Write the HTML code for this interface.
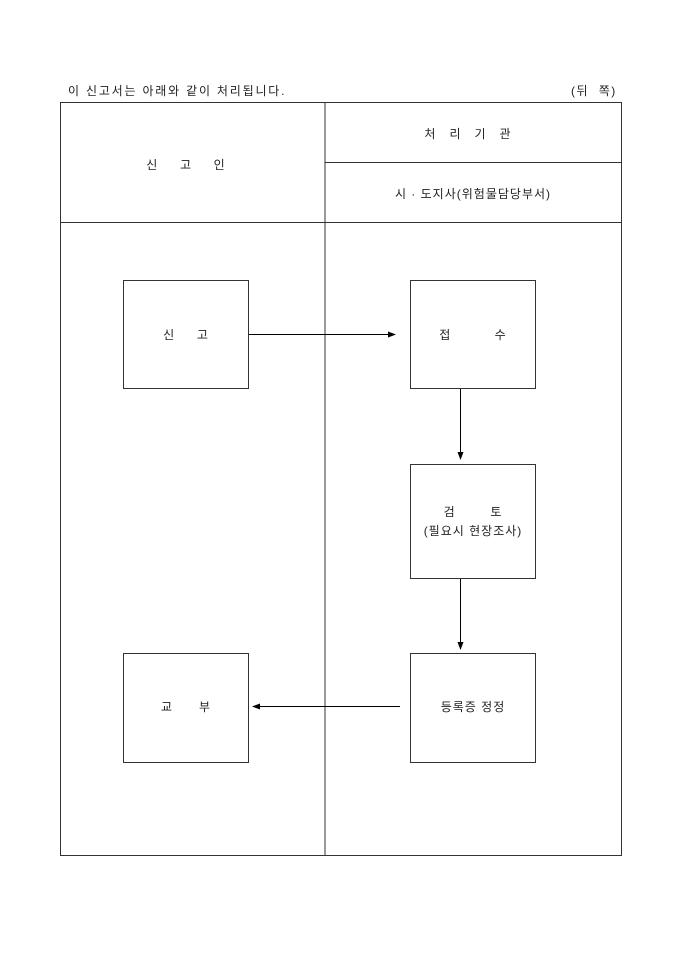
<!DOCTYPE html>
<html><head><meta charset="utf-8"><style>
body{margin:0;width:680px;height:962px;background:#fff;overflow:hidden}
svg text{font-family:"Liberation Sans","Noto Sans CJK KR","NanumGothic",sans-serif;font-size:12px;fill:#222;letter-spacing:1px}
</style></head><body>
<svg width="680" height="962" xmlns="http://www.w3.org/2000/svg">
<defs><marker id="a" markerWidth="8" markerHeight="8" refX="7" refY="4" orient="auto" markerUnits="userSpaceOnUse"><path d="M0,1 L8,4 L0,7 z" fill="#000"/></marker></defs>
<text x="68" y="95" style="letter-spacing:1.8px">이 신고서는 아래와 같이 처리됩니다.</text>
<text x="571" y="95" xml:space="preserve" style="letter-spacing:1.5px">(뒤  쪽)</text>
<g stroke="#333" stroke-width="1" fill="none">
<rect x="60.5" y="102.5" width="561" height="753"/>
<line x1="325" y1="102" x2="325" y2="856"/>
<line x1="60" y1="222.5" x2="622" y2="222.5"/>
<line x1="325" y1="162.5" x2="622" y2="162.5"/>
<rect x="123.5" y="280.5" width="125" height="108"/>
<rect x="410.5" y="280.5" width="125" height="108"/>
<rect x="410.5" y="464.5" width="125" height="114"/>
<rect x="410.5" y="653.5" width="125" height="109"/>
<rect x="123.5" y="653.5" width="125" height="109"/>
</g>
<g stroke="#000" stroke-width="1">
<line x1="249" y1="334.5" x2="395" y2="334.5" marker-end="url(#a)"/>
<line x1="460.5" y1="389" x2="460.5" y2="459" marker-end="url(#a)"/>
<line x1="460.5" y1="579" x2="460.5" y2="649" marker-end="url(#a)"/>
<line x1="400" y1="706.5" x2="253" y2="706.5" marker-end="url(#a)"/>
</g>
<g text-anchor="middle">
<text x="186" y="169" xml:space="preserve">신     고     인</text>
<text x="468" y="138" xml:space="preserve">처   리   기   관</text>
<text x="473" y="198">시 · 도지사(위험물담당부서)</text>
<text x="186" y="339" xml:space="preserve">신     고</text>
<text x="473" y="339" xml:space="preserve">접          수</text>
<text x="473" y="516" xml:space="preserve">검        토</text>
<text x="473" y="535">(필요시 현장조사)</text>
<text x="473" y="711">등록증 정정</text>
<text x="186" y="711" xml:space="preserve">교      부</text>
</g>
</svg>
</body></html>
